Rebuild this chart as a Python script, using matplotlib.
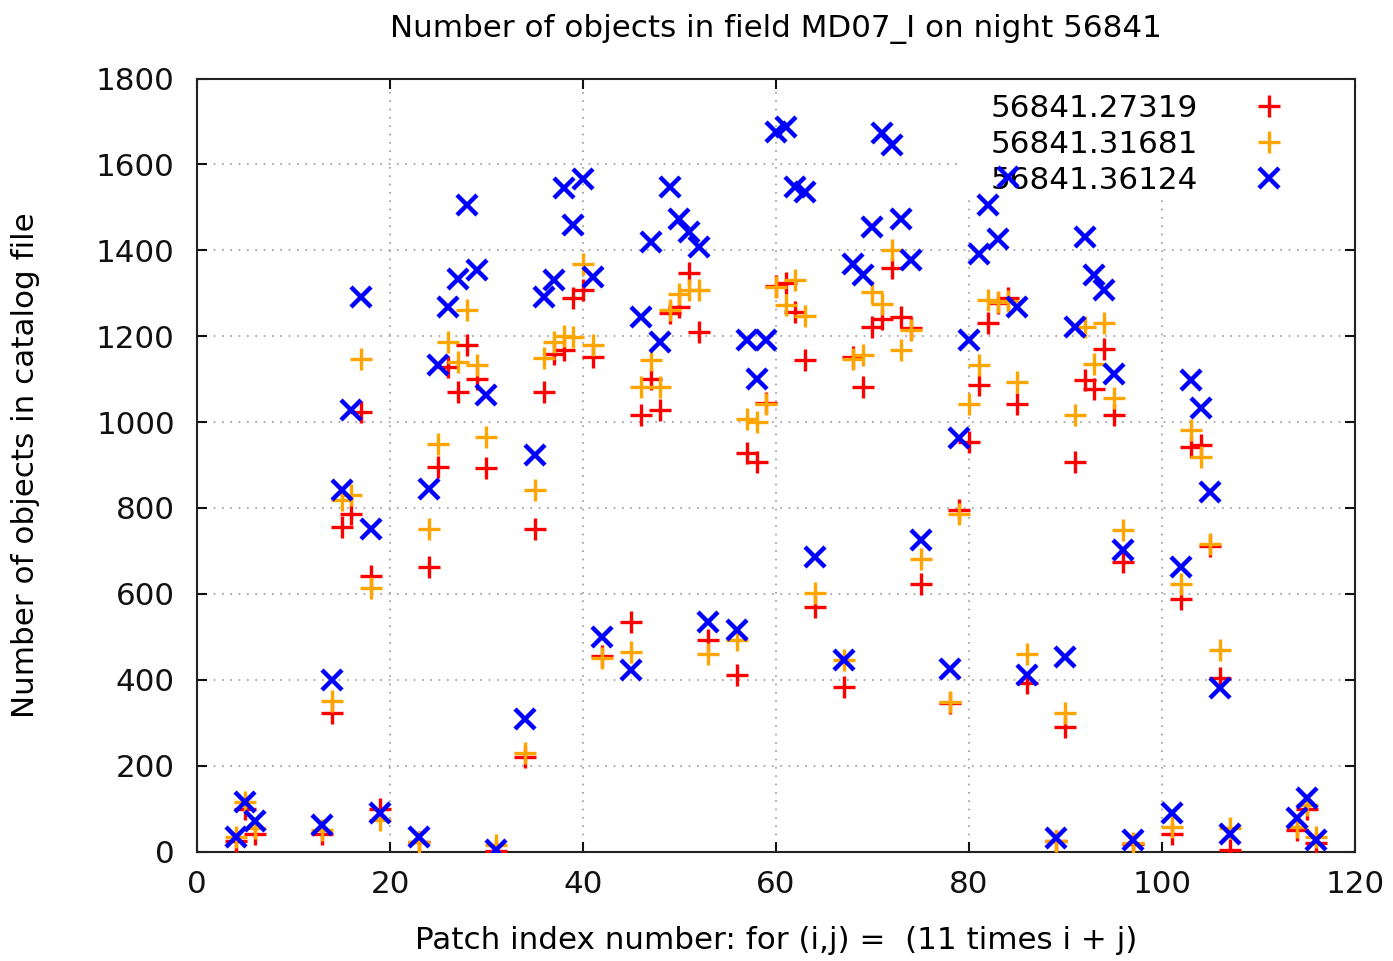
import matplotlib
matplotlib.use("Agg")
import matplotlib.pyplot as plt
from matplotlib.patches import Rectangle

# patch index (11*i + j)
patch = [4, 5, 6, 13, 14, 15, 16, 17, 18, 19, 23, 24, 25, 26, 27, 28, 29, 30, 31,
         34, 35, 36, 37, 38, 39, 40, 41, 42, 45, 46, 47, 48, 49, 50, 51, 52, 53,
         56, 57, 58, 59, 60, 61, 62, 63, 64, 67, 68, 69, 70, 71, 72, 73, 74, 75,
         78, 79, 80, 81, 82, 83, 84, 85, 86, 89, 90, 91, 92, 93, 94, 95, 96, 97,
         101, 102, 103, 104, 105, 106, 107, 114, 115, 116]

# object counts per exposure
n_27319 = [25, 100, 40, 42, 322, 755, 787, 1024, 641, 100, 22, 663, 896, 1128, 1069, 1179, 1101, 893, 2,
           221, 752, 1069, 1158, 1168, 1290, 1307, 1152, 455, 535, 1016, 1101, 1028, 1255, 1268, 1346, 1210, 492,
           411, 927, 907, 1045, 1318, 1323, 1257, 1144, 570, 384, 1152, 1082, 1222, 1241, 1358, 1245, 1218, 624,
           345, 795, 954, 1086, 1230, 1278, 1288, 1043, 392, 25, 290, 907, 1098, 1078, 1171, 1016, 675, 18,
           42, 589, 942, 947, 712, 403, 3, 50, 100, 19]
n_31681 = [33, 115, 55, 50, 351, 818, 830, 1146, 613, 73, 23, 752, 950, 1187, 1140, 1262, 1132, 965, 15,
           229, 843, 1150, 1187, 1200, 1198, 1367, 1180, 450, 465, 1082, 1144, 1082, 1260, 1299, 1307, 1307, 461,
           492, 1008, 1000, 1043, 1315, 1272, 1330, 1246, 601, 446, 1148, 1156, 1303, 1276, 1401, 1167, 1214, 682,
           349, 787, 1043, 1132, 1284, 1280, 1282, 1094, 461, 25, 322, 1016, 1222, 1136, 1230, 1055, 748, 20,
           58, 624, 981, 919, 717, 469, 55, 58, 108, 35]
n_36124 = [35, 116, 70, 62, 399, 843, 1028, 1291, 752, 89, 35, 845, 1132, 1268, 1334, 1505, 1353, 1064, 3,
           308, 923, 1291, 1330, 1544, 1458, 1565, 1338, 500, 423, 1245, 1419, 1187, 1547, 1474, 1443, 1408, 535,
           516, 1190, 1101, 1190, 1676, 1687, 1547, 1536, 686, 446, 1369, 1342, 1454, 1672, 1645, 1474, 1377, 725,
           426, 962, 1190, 1392, 1505, 1427, 1571, 1268, 411, 31, 453, 1222, 1431, 1342, 1307, 1113, 702, 27,
           89, 663, 1098, 1032, 838, 380, 42, 77, 124, 27]

plt.rcParams['font.family'] = 'DejaVu Sans'
fs = 22.3

fig = plt.figure(figsize=(13.93, 9.61), dpi=100)
ax = fig.add_axes([0.1414, 0.1139, 0.8313, 0.8044])

ax.plot(patch, n_27319, linestyle='none', marker='+', color='#ff0000',
        markersize=16, markeredgewidth=2.4, label='56841.27319', zorder=3)
ax.plot(patch, n_31681, linestyle='none', marker='+', color='#ffa500',
        markersize=16, markeredgewidth=2.4, label='56841.31681', zorder=3)
ax.plot(patch, n_36124, linestyle='none', marker='x', color='#0000ff',
        markersize=14.5, markeredgewidth=3.2, label='56841.36124', zorder=3)

ax.set_xlim(0, 120)
ax.set_ylim(0, 1800)
ax.set_xticks(range(0, 121, 20))
ax.set_yticks(range(0, 1801, 200))
ax.tick_params(direction='in', length=7, width=1.5, top=True, right=True,
               labelsize=fs, colors='#111111')
ax.tick_params(axis='x', pad=13)
ax.tick_params(axis='y', pad=16)
for s in ax.spines.values():
    s.set_linewidth(1.5)
    s.set_color('#222222')

ax.set_axisbelow(True)
ax.grid(True, linestyle=(0, (1, 4)), color='#999999', linewidth=1.2)

# white area behind the key hides the grid
ax.add_patch(Rectangle((0.66, 0.843), 0.34, 0.157, transform=ax.transAxes,
                       facecolor='white', edgecolor='none', zorder=1))

leg = ax.legend(loc='upper left', bbox_to_anchor=(0.672, 1.0), frameon=False,
                markerfirst=False, fontsize=fs, handlelength=1.0,
                handletextpad=1.8, labelspacing=0.22, borderaxespad=0.0,
                borderpad=0.5)
leg.set_zorder(2)

ax.set_title('Number of objects in field MD07_I on night 56841', fontsize=fs, pad=30)
ax.set_xlabel('Patch index number: for (i,j) =  (11 times i + j)', fontsize=fs, labelpad=20)
ax.set_ylabel('Number of objects in catalog file', fontsize=fs, labelpad=40)

fig.savefig('out.png', dpi=100)
